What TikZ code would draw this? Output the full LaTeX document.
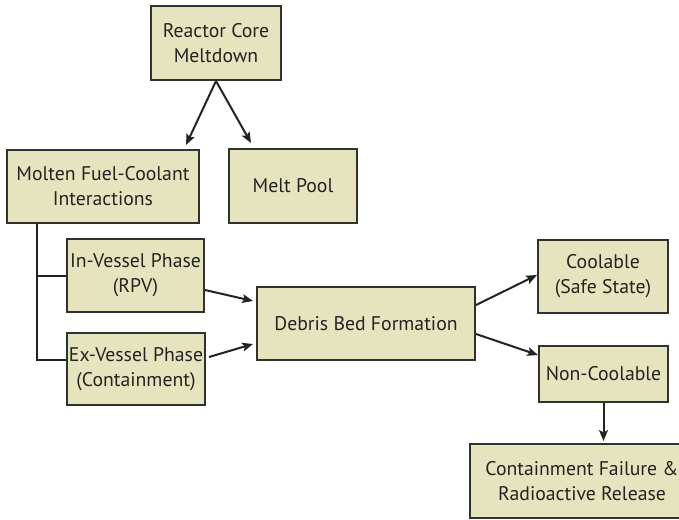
\documentclass[tikz,border=0pt]{standalone}
\usepackage{fontspec}
\setmainfont{PT Sans}
\usetikzlibrary{arrows.meta,calc}

\definecolor{boxfill}{RGB}{230,228,190}
\definecolor{boxline}{RGB}{50,50,45}
\definecolor{inkcol}{RGB}{35,35,33}

\tikzset{
  flowbox/.style={draw=boxline, line width=1.5pt, fill=boxfill, align=center,
    text=inkcol, inner sep=0pt, font=\fontsize{14.8}{18.8}\selectfont},
  link/.style={draw=inkcol, line width=1.5pt},
  arrowlink/.style={link, -{Stealth[length=8pt,width=6.5pt,inset=1.5pt]}}
}

% box given by its corners in pixel units (x right, y down)
\newcommand{\flowbox}[6]{%
  \node[flowbox, minimum width={(#4-#2)*0.75pt}, minimum height={(#5-#3)*0.75pt}]
    (#1) at ({(#2+#4)/2},{(#3+#5)/2}) {#6};}

\begin{document}
\begin{tikzpicture}[x=0.75pt,y=-0.75pt]
  \useasboundingbox (0,0) rectangle (679,519);
  \clip (0,0) rectangle (679,519);

  \flowbox{core}{151}{6}{281}{80}{Reactor Core\\Meltdown}
  \flowbox{molten}{7}{150}{199}{223}{Molten Fuel-Coolant\\Interactions}
  \flowbox{pool}{229}{149}{357}{223}{Melt Pool}
  \flowbox{invessel}{67}{239}{204}{312}{In-Vessel Phase\\(RPV)}
  \flowbox{exvessel}{67}{333}{205}{405}{Ex-Vessel Phase\\(Containment)}
  \flowbox{debris}{257}{287}{475}{360}{Debris Bed Formation}
  \flowbox{coolable}{538}{240}{668}{313}{Coolable\\(Safe State)}
  \flowbox{noncool}{539}{346}{668}{402}{Non-Coolable}
  \flowbox{contain}{470}{444}{694}{518}{Containment Failure \&\\Radioactive Release}

  % meltdown branches
  \draw[arrowlink] (core.south) -- ($(molten.north east)+(-14,-4)$);
  \draw[arrowlink] (core.south) -- ($(pool.north west)+(23,-5)$);

  % interaction phases
  \coordinate (trunk) at ($(molten.south west)+(31,0)$);
  \draw[link] (trunk) |- (invessel.west);
  \draw[link] (trunk) |- ($(exvessel.west)+(0,-9)$);

  % phases to debris bed
  \draw[arrowlink] ($(invessel.east)+(0,14.5)$) -- ($(debris.west)+(-3,-22.5)$);
  \draw[arrowlink] ($(exvessel.east)+(3,-12)$) -- ($(debris.west)+(-3,20.5)$);

  % debris bed outcomes
  \draw[arrowlink] ($(debris.east)+(0,-18.5)$) -- ($(coolable.west)+(0,-1.5)$);
  \draw[arrowlink] ($(debris.east)+(0,10.5)$) -- ($(noncool.west)+(0,-19)$);
  \draw[arrowlink] (noncool.south) -- ($(noncool.south |- contain.north)+(0,-2)$);
\end{tikzpicture}
\end{document}
